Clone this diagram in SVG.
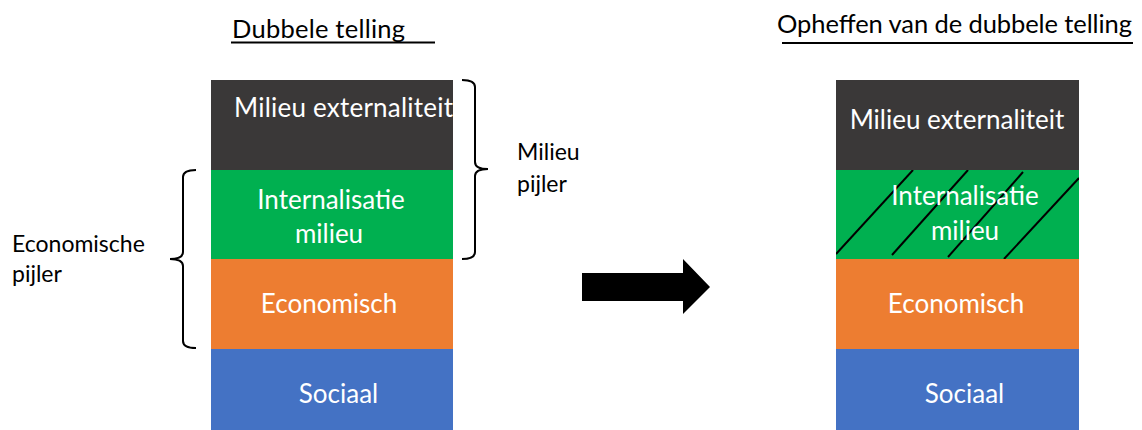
<svg xmlns="http://www.w3.org/2000/svg" width="1142" height="430" viewBox="0 0 1142 430">
<defs>
<style>
.t{font-family:Lato,"Open Sans","Liberation Sans",sans-serif;}
.w{fill:#fff;font-size:26px;text-anchor:middle;}
.k{fill:#000;}
.lb{font-size:23px;}
.br{fill:none;stroke:#000;stroke-width:2;}
.ul{stroke:#000;stroke-width:2;}
</style>
<clipPath id="gclip"><rect x="836" y="170" width="243" height="89"/></clipPath>
</defs>
<rect width="1142" height="430" fill="#fff"/>
<g id="title-left">
<text class="t k" x="232" y="38" font-size="25.5" textLength="173">Dubbele telling</text>
<line class="ul" x1="231" y1="42.5" x2="435" y2="42.5"/>
</g>
<g id="title-right">
<text class="t k" x="777" y="33" font-size="25.5" textLength="355">Opheffen van de dubbele telling</text>
<line class="ul" x1="782" y1="43" x2="1133" y2="43"/>
</g>
<g id="left-milieu-ext">
<rect x="211" y="80" width="242" height="90" fill="#3A3838"/>
<text class="t" x="234" y="117" font-size="26" fill="#fff" textLength="219">Milieu externaliteit</text>
</g>
<g id="left-internalisatie">
<rect x="211" y="170" width="242" height="89" fill="#00B050"/>
<text class="t w" x="331" y="209">Internalisatie</text>
<text class="t w" x="329" y="243">milieu</text>
</g>
<g id="left-economisch">
<rect x="211" y="259" width="242" height="90" fill="#ED7D31"/>
<text class="t w" x="329" y="313">Economisch</text>
</g>
<g id="left-sociaal">
<rect x="211" y="349" width="242" height="81" fill="#4472C4"/>
<text class="t w" x="338.5" y="403">Sociaal</text>
</g>
<g id="right-milieu-ext">
<rect x="836" y="80" width="243" height="90" fill="#3A3838"/>
<text class="t w" x="957" y="129">Milieu externaliteit</text>
</g>
<g id="right-internalisatie">
<rect x="836" y="170" width="243" height="89" fill="#00B050"/>
<g clip-path="url(#gclip)" stroke="#000" stroke-width="2">
<line x1="836" y1="254" x2="913" y2="170"/>
<line x1="892" y1="255" x2="968" y2="170"/>
<line x1="948" y1="257" x2="1023" y2="172"/>
<line x1="1004" y1="259" x2="1079" y2="178"/>
</g>
<text class="t w" x="965" y="205">Internalisatie</text>
<text class="t w" x="965" y="240">milieu</text>
</g>
<g id="right-economisch">
<rect x="836" y="259" width="243" height="90" fill="#ED7D31"/>
<text class="t w" x="956" y="313">Economisch</text>
</g>
<g id="right-sociaal">
<rect x="836" y="349" width="243" height="81" fill="#4472C4"/>
<text class="t w" x="964.5" y="403">Sociaal</text>
</g>
<g id="label-milieu-pijler">
<text class="t k lb" x="517" y="160">Milieu</text>
<text class="t k lb" x="517" y="192">pijler</text>
</g>
<g id="label-economische-pijler">
<text class="t k lb" x="12" y="252">Economische</text>
<text class="t k lb" x="12" y="282">pijler</text>
</g>
<g id="connectors">
<path class="br" d="M462,80 Q475,80 475,87 L475,162 Q475,169 488,169 Q475,169 475,176 L475,252 Q475,259 462,259"/>
<path class="br" d="M196,170 Q183,170 183,177 L183,252 Q183,259 170,259 Q183,259 183,266 L183,341 Q183,348 196,348"/>
<polygon points="582,273 683,273 683,259 710,287 683,314 683,301 582,301" fill="#000"/>
</g>
</svg>
